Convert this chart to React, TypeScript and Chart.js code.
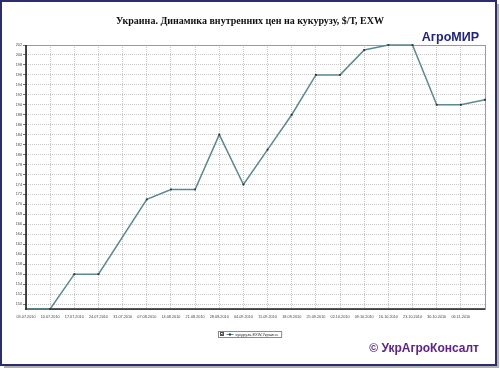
import React, { useEffect, useRef } from "react";
import { Chart, registerables } from "chart.js";

Chart.register(...registerables);

const titleText = "Украина. Динамика внутренних цен на кукурузу, $/Т, EXW";
const brandTop = "АгроМИР";
const brandBottom = "© УкрАгроКонсалт";
const seriesName = "кукуруза,EXW,Украина";

const dates = [
  "03.07.2010", "10.07.2010", "17.07.2010", "24.07.2010", "31.07.2010",
  "07.08.2010", "14.08.2010", "21.08.2010", "28.08.2010", "04.09.2010",
  "11.09.2010", "18.09.2010", "25.09.2010", "02.10.2010", "09.10.2010",
  "16.10.2010", "23.10.2010", "30.10.2010", "06.11.2010", "13.11.2010",
];
const prices: (number | null)[] = [
  149, 149, 156, 156, null, 171, 173, 173, 184, 174,
  181, 188, 196, 196, 201, 202, 202, 190, 190, 191,
];
const yTicks = [150, 152, 154, 156, 158, 160, 162, 164, 166, 168, 170, 172, 174, 176, 178, 180, 182, 184, 186, 188, 190, 192, 194, 196, 198, 200, 202];
const yMin = 149;
const yMax = 202;

const decor = {
  id: "decor",
  beforeDraw(chart: any) {
    const { ctx, width, height } = chart;
    ctx.save();
    ctx.fillStyle = "#ffffff";
    ctx.fillRect(0, 0, width, height);
    ctx.restore();
  },
  beforeDatasetsDraw(chart: any) {
    const { ctx, chartArea } = chart;
    const { left, right, top, bottom } = chartArea;
    ctx.save();
    ctx.strokeStyle = "#9a9a9a";
    ctx.lineWidth = 1;
    ctx.strokeRect(left + 0.5, top + 0.5, right - left, bottom - top);
    ctx.strokeStyle = "#222222";
    ctx.lineWidth = 1.6;
    ctx.beginPath();
    ctx.moveTo(left, top);
    ctx.lineTo(left, bottom);
    ctx.lineTo(right, bottom);
    ctx.stroke();
    ctx.restore();
  },
  afterDraw(chart: any) {
    const { ctx, width, height } = chart;
    ctx.save();
    // title
    ctx.fillStyle = "#111111";
    ctx.font = "bold 10px 'Liberation Serif', 'DejaVu Serif', serif";
    ctx.textAlign = "center";
    ctx.textBaseline = "middle";
    ctx.fillText(titleText, 250, 21);

    // brand top
    ctx.fillStyle = "#1e2385";
    ctx.font = "bold 12.5px 'Liberation Sans', Arial, sans-serif";
    ctx.textAlign = "right";
    ctx.textBaseline = "alphabetic";
    ctx.fillText(brandTop, 479, 41);

    // brand bottom
    ctx.fillStyle = "#5e2488";
    ctx.font = "bold 12px 'Liberation Sans', Arial, sans-serif";
    ctx.textAlign = "right";
    ctx.fillText(brandBottom, 479, 352);

    // legend box
    const ds = chart.data.datasets[0];
    ctx.font = "4px 'Liberation Sans', Arial, sans-serif";
    const tw = ctx.measureText(seriesName).width;
    const bw = 18 + tw + 3;
    const bx = Math.round(250 - bw / 2) + 0.5;
    const by = 331.5;
    ctx.fillStyle = "#ffffff";
    ctx.fillRect(bx, by, bw, 6);
    ctx.strokeStyle = "#8a8a8a";
    ctx.lineWidth = 1;
    ctx.strokeRect(bx, by, bw, 6);
    ctx.strokeStyle = "#555";
    ctx.strokeRect(bx + 2, by + 1, 3, 3);
    ctx.beginPath();
    ctx.moveTo(bx + 2.5, by + 2.5);
    ctx.lineTo(bx + 3.5, by + 3.5);
    ctx.lineTo(bx + 5, by + 1.2);
    ctx.stroke();
    ctx.strokeStyle = ds.borderColor;
    ctx.beginPath();
    ctx.moveTo(bx + 8, by + 3);
    ctx.lineTo(bx + 15, by + 3);
    ctx.stroke();
    ctx.fillStyle = "#333";
    ctx.fillRect(bx + 10.5, by + 2, 2, 2);
    ctx.textAlign = "left";
    ctx.textBaseline = "middle";
    ctx.fillText(seriesName, bx + 17, by + 3.2);

    // outer frame
    ctx.strokeStyle = "#2b2e6e";
    ctx.lineWidth = 2;
    ctx.strokeRect(1, 1, width - 5, height - 5);
    ctx.strokeStyle = "#b0b0b0";
    ctx.lineWidth = 2;
    ctx.beginPath();
    ctx.moveTo(width - 2, 4);
    ctx.lineTo(width - 2, height - 2);
    ctx.lineTo(4, height - 2);
    ctx.stroke();
    ctx.restore();
  },
};

export default function App() {
  const ref = useRef<HTMLCanvasElement>(null);
  useEffect(() => {
    document.body.style.margin = "0";
    const chart = new Chart(ref.current!, {
      type: "line",
      data: {
        labels: dates,
        datasets: [
          {
            label: seriesName,
            data: prices,
            borderColor: "#5a8a90",
            borderWidth: 1.5,
            pointRadius: 1.3,
            pointStyle: "rect",
            pointBackgroundColor: "#333333",
            pointBorderColor: "#333333",
            pointBorderWidth: 0,
            spanGaps: true,
            tension: 0,
            clip: false,
          },
        ],
      },
      options: {
        animation: false,
        responsive: false,
        layout: { padding: { left: 0, right: 15, top: 45, bottom: 40 } },
        plugins: {
          legend: { display: false },
          title: { display: false },
          tooltip: { enabled: false },
        },
        scales: {
          x: {
            type: "category",
            offset: false,
            afterFit(scale: any) {
              scale.height = 20;
            },
            grid: {
              color: "#c8c8c8",
              drawTicks: false,
            },
            border: { display: false, dash: [1, 1] },
            ticks: {
              autoSkip: false,
              maxRotation: 0,
              minRotation: 0,
              padding: 6,
              color: "#444",
              font: { size: 3.8, family: "'Liberation Sans', Arial, sans-serif" },
              callback(_v: any, i: number) {
                return i === dates.length - 1 ? "" : dates[i];
              },
            },
          },
          y: {
            type: "linear",
            min: yMin,
            max: yMax,
            afterFit(scale: any) {
              scale.width = 26;
            },
            afterBuildTicks(scale: any) {
              scale.ticks = yTicks.map((v) => ({ value: v }));
            },
            grid: {
              color: "#c8c8c8",
              tickLength: 3,
              tickColor: "#777",
              tickBorderDash: [],
            },
            border: { display: false, dash: [1, 1] },
            ticks: {
              padding: 1,
              color: "#444",
              font: { size: 3.8, family: "'Liberation Sans', Arial, sans-serif" },
            },
          },
        },
      },
      plugins: [decor],
    });
    return () => chart.destroy();
  }, []);
  return (
    <div style={{ width: 500, height: 369 }}>
      <canvas ref={ref} width={500} height={369} style={{ display: "block" }} />
    </div>
  );
}
